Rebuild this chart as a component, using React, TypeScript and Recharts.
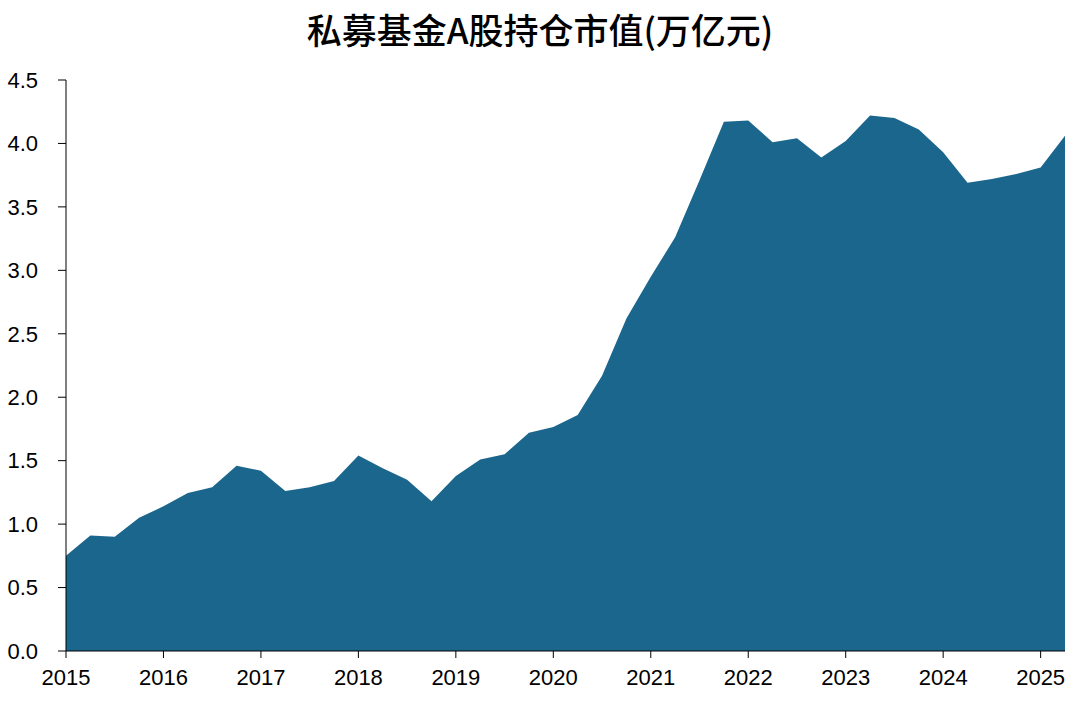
import { AreaChart, Area, XAxis, YAxis } from "recharts";

// quarterly observations, 2015Q1 .. 2025Q2
const years = [
  2015, 2015.25, 2015.5, 2015.75, 2016, 2016.25, 2016.5, 2016.75,
  2017, 2017.25, 2017.5, 2017.75, 2018, 2018.25, 2018.5, 2018.75,
  2019, 2019.25, 2019.5, 2019.75, 2020, 2020.25, 2020.5, 2020.75,
  2021, 2021.25, 2021.5, 2021.75, 2022, 2022.25, 2022.5, 2022.75,
  2023, 2023.25, 2023.5, 2023.75, 2024, 2024.25, 2024.5, 2024.75,
  2025, 2025.25,
];

const holdings = [
  0.75, 0.91, 0.9, 1.05, 1.14, 1.245, 1.29, 1.46,
  1.42, 1.26, 1.29, 1.34, 1.54, 1.44, 1.35, 1.18,
  1.38, 1.51, 1.55, 1.72, 1.765, 1.86, 2.17, 2.62,
  2.95, 3.26, 3.71, 4.17, 4.18, 4.01, 4.04, 3.89,
  4.02, 4.22, 4.2, 4.11, 3.93, 3.69, 3.72, 3.76,
  3.81, 4.06,
];

const xTicks = [2015, 2016, 2017, 2018, 2019, 2020, 2021, 2022, 2023, 2024, 2025];
const yTicks = [0, 0.5, 1, 1.5, 2, 2.5, 3, 3.5, 4, 4.5];

const title = "私募基金A股持仓市值(万亿元)";

const data = years.map((t, i) => ({ t, v: holdings[i] }));

const tickStyle = { fontSize: 22, fill: "#000", fontFamily: "'Liberation Sans', Arial, sans-serif" };

export default function App() {
  return (
    <div style={{ position: "absolute", left: 0, top: 0, width: 1080, height: 705, background: "#fff" }}>
      <div
        style={{
          position: "absolute",
          left: 0,
          top: 9,
          width: 1080,
          textAlign: "center",
          fontFamily: "'Noto Sans CJK SC', sans-serif",
          fontWeight: 500,
          fontSize: 35,
          lineHeight: "40px",
          color: "#000",
        }}
      >
        {title}
      </div>
      <AreaChart width={1080} height={705} data={data} margin={{ top: 80, right: 15, bottom: 24, left: 0 }}>
        <XAxis
          dataKey="t"
          type="number"
          domain={[2015, 2025.25]}
          ticks={xTicks}
          allowDataOverflow
          height={30}
          tickSize={7}
          tickMargin={11}
          stroke="#000"
          tick={tickStyle}
        />
        <YAxis
          domain={[0, 4.5]}
          ticks={yTicks}
          width={66}
          tickSize={8}
          tickMargin={20}
          stroke="#000"
          tick={tickStyle}
          tickFormatter={(v: number) => v.toFixed(1)}
        />
        <Area
          type="linear"
          dataKey="v"
          stroke="none"
          fill="#1B668C"
          fillOpacity={1}
          isAnimationActive={false}
        />
      </AreaChart>
    </div>
  );
}
